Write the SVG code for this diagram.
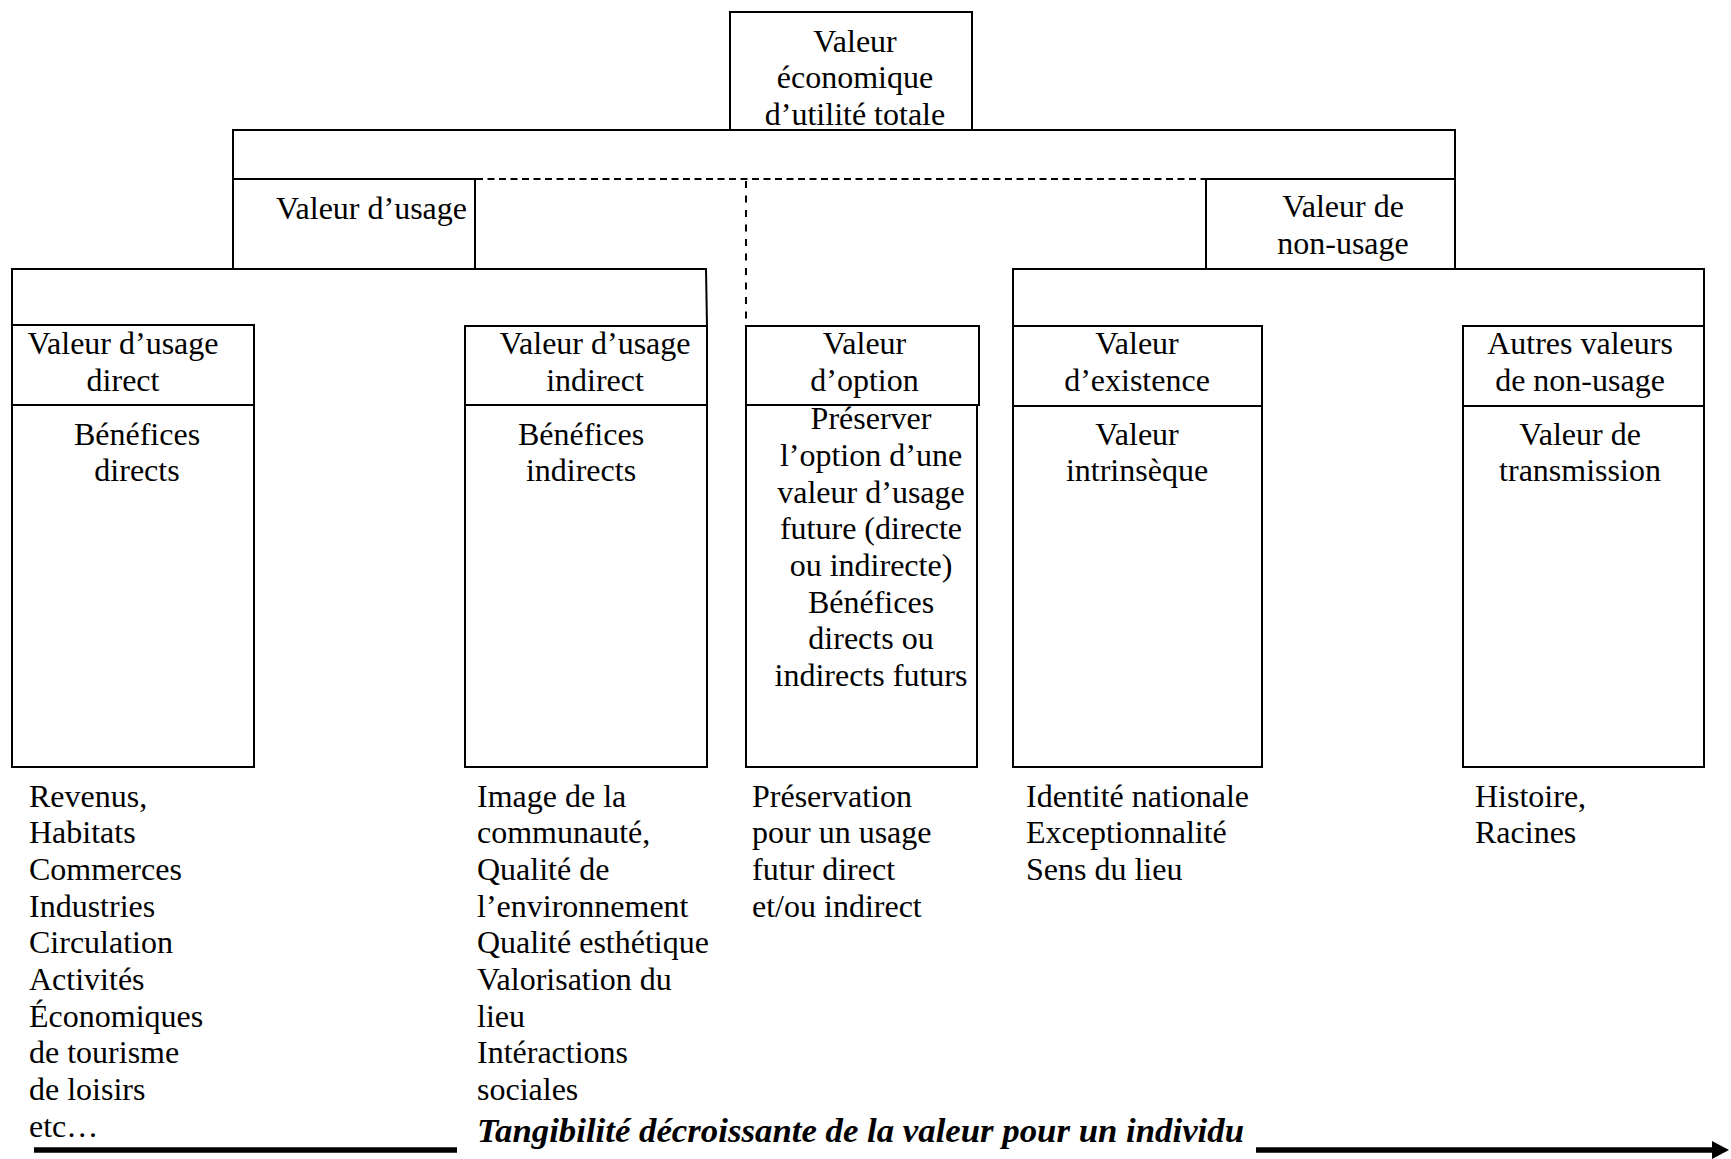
<svg xmlns="http://www.w3.org/2000/svg" width="1731" height="1159" viewBox="0 0 1731 1159">
<defs>
<style>
.b{fill:none;stroke:#000;stroke-width:2}
.t{font-family:"Liberation Serif","Times New Roman",serif;font-size:32px;fill:#000}
.c{text-anchor:middle}
.dh{fill:none;stroke:#000;stroke-width:2;stroke-dasharray:7 4.5}
.dv{fill:none;stroke:#000;stroke-width:2;stroke-dasharray:7 7.5}
.ar{fill:none;stroke:#000;stroke-width:5.5}
.ti{font-family:"Liberation Serif","Times New Roman",serif;font-size:34.5px;font-weight:bold;font-style:italic;fill:#000}
</style>
<marker id="ah" markerUnits="userSpaceOnUse" markerWidth="18" markerHeight="18" refX="0" refY="9" orient="auto" viewBox="0 0 18 18">
<path d="M0,0 L17,9 L0,18 Z" fill="#000"/>
</marker>
</defs>
<rect width="1731" height="1159" fill="#fff"/>

<g id="connectors">
<path class="b" d="M233,179 V130 H1455 V179"/>
<path class="b" d="M12,325 V269 H706 L707,326"/>
<path class="b" d="M1013,326 V269 H1704 V326"/>
<path class="dh" d="M476,179 H1206"/>
<path class="dv" d="M746,181 V320"/>
<path class="ar" d="M34,1150 H457"/>
<path class="ar" d="M1256,1150 H1712" marker-end="url(#ah)"/>
</g>

<g id="n-total">
<rect class="b" x="730" y="12" width="242" height="118"/>
<text class="t c" x="855" y="52">Valeur</text>
<text class="t c" x="855" y="88">économique</text>
<text class="t c" x="855" y="125">d’utilité totale</text>
</g>

<g id="n-usage">
<rect class="b" x="233" y="179" width="242" height="90"/>
<text class="t c" x="371.5" y="219">Valeur d’usage</text>
</g>

<g id="n-nonusage">
<rect class="b" x="1206" y="179" width="249" height="90"/>
<text class="t c" x="1343" y="217">Valeur de</text>
<text class="t c" x="1343" y="254">non-usage</text>
</g>

<g id="n-direct">
<rect class="b" x="12" y="325" width="242" height="442"/>
<path class="b" d="M12,405 H254"/>
<text class="t c" x="123" y="354">Valeur d’usage</text>
<text class="t c" x="123" y="391">direct</text>
<text class="t c" x="137" y="445">Bénéfices</text>
<text class="t c" x="137" y="481">directs</text>
</g>

<g id="n-indirect">
<rect class="b" x="465" y="326" width="242" height="441"/>
<path class="b" d="M465,405 H707"/>
<text class="t c" x="595" y="354">Valeur d’usage</text>
<text class="t c" x="595" y="391">indirect</text>
<text class="t c" x="581" y="445">Bénéfices</text>
<text class="t c" x="581" y="481">indirects</text>
</g>

<g id="n-option">
<rect class="b" x="746" y="326" width="233" height="79"/>
<rect class="b" x="746" y="405" width="231" height="362"/>
<text class="t c" x="864.5" y="354">Valeur</text>
<text class="t c" x="864.5" y="391">d’option</text>
<text class="t c" x="871" y="429">Préserver</text>
<text class="t c" x="871" y="466">l’option d’une</text>
<text class="t c" x="871" y="502.5">valeur d’usage</text>
<text class="t c" x="871" y="539">future (directe</text>
<text class="t c" x="871" y="576">ou indirecte)</text>
<text class="t c" x="871" y="612.5">Bénéfices</text>
<text class="t c" x="871" y="649">directs ou</text>
<text class="t c" x="871" y="686">indirects futurs</text>
</g>

<g id="n-existence">
<rect class="b" x="1013" y="326" width="249" height="441"/>
<path class="b" d="M1013,406 H1262"/>
<text class="t c" x="1137" y="354">Valeur</text>
<text class="t c" x="1137" y="391">d’existence</text>
<text class="t c" x="1137" y="445">Valeur</text>
<text class="t c" x="1137" y="481">intrinsèque</text>
</g>

<g id="n-autres">
<rect class="b" x="1463" y="326" width="241" height="441"/>
<path class="b" d="M1463,406 H1704"/>
<text class="t c" x="1580" y="354">Autres valeurs</text>
<text class="t c" x="1580" y="391">de non-usage</text>
<text class="t c" x="1580" y="445">Valeur de</text>
<text class="t c" x="1580" y="481">transmission</text>
</g>

<g id="list-direct">
<text class="t" x="29" y="806.5">Revenus,</text>
<text class="t" x="29" y="843.2">Habitats</text>
<text class="t" x="29" y="879.9">Commerces</text>
<text class="t" x="29" y="916.6">Industries</text>
<text class="t" x="29" y="953.3">Circulation</text>
<text class="t" x="29" y="990">Activités</text>
<text class="t" x="29" y="1026.7">Économiques</text>
<text class="t" x="29" y="1063.4">de tourisme</text>
<text class="t" x="29" y="1100.1">de loisirs</text>
<text class="t" x="29" y="1136.8">etc…</text>
</g>

<g id="list-indirect">
<text class="t" x="477" y="806.5">Image de la</text>
<text class="t" x="477" y="843.2">communauté,</text>
<text class="t" x="477" y="879.9">Qualité de</text>
<text class="t" x="477" y="916.6">l’environnement</text>
<text class="t" x="477" y="953.3">Qualité esthétique</text>
<text class="t" x="477" y="990">Valorisation du</text>
<text class="t" x="477" y="1026.7">lieu</text>
<text class="t" x="477" y="1063.4">Intéractions</text>
<text class="t" x="477" y="1100.1">sociales</text>
</g>

<g id="list-option">
<text class="t" x="752" y="806.5">Préservation</text>
<text class="t" x="752" y="843.2">pour un usage</text>
<text class="t" x="752" y="879.9">futur direct</text>
<text class="t" x="752" y="916.6">et/ou indirect</text>
</g>

<g id="list-existence">
<text class="t" x="1026" y="806.5">Identité nationale</text>
<text class="t" x="1026" y="843.2">Exceptionnalité</text>
<text class="t" x="1026" y="879.9">Sens du lieu</text>
</g>

<g id="list-autres">
<text class="t" x="1475" y="806.5">Histoire,</text>
<text class="t" x="1475" y="843.2">Racines</text>
</g>

<g id="axis-label">
<text class="ti" x="477" y="1142" textLength="767" lengthAdjust="spacingAndGlyphs">Tangibilité décroissante de la valeur pour un individu</text>
</g>
</svg>
